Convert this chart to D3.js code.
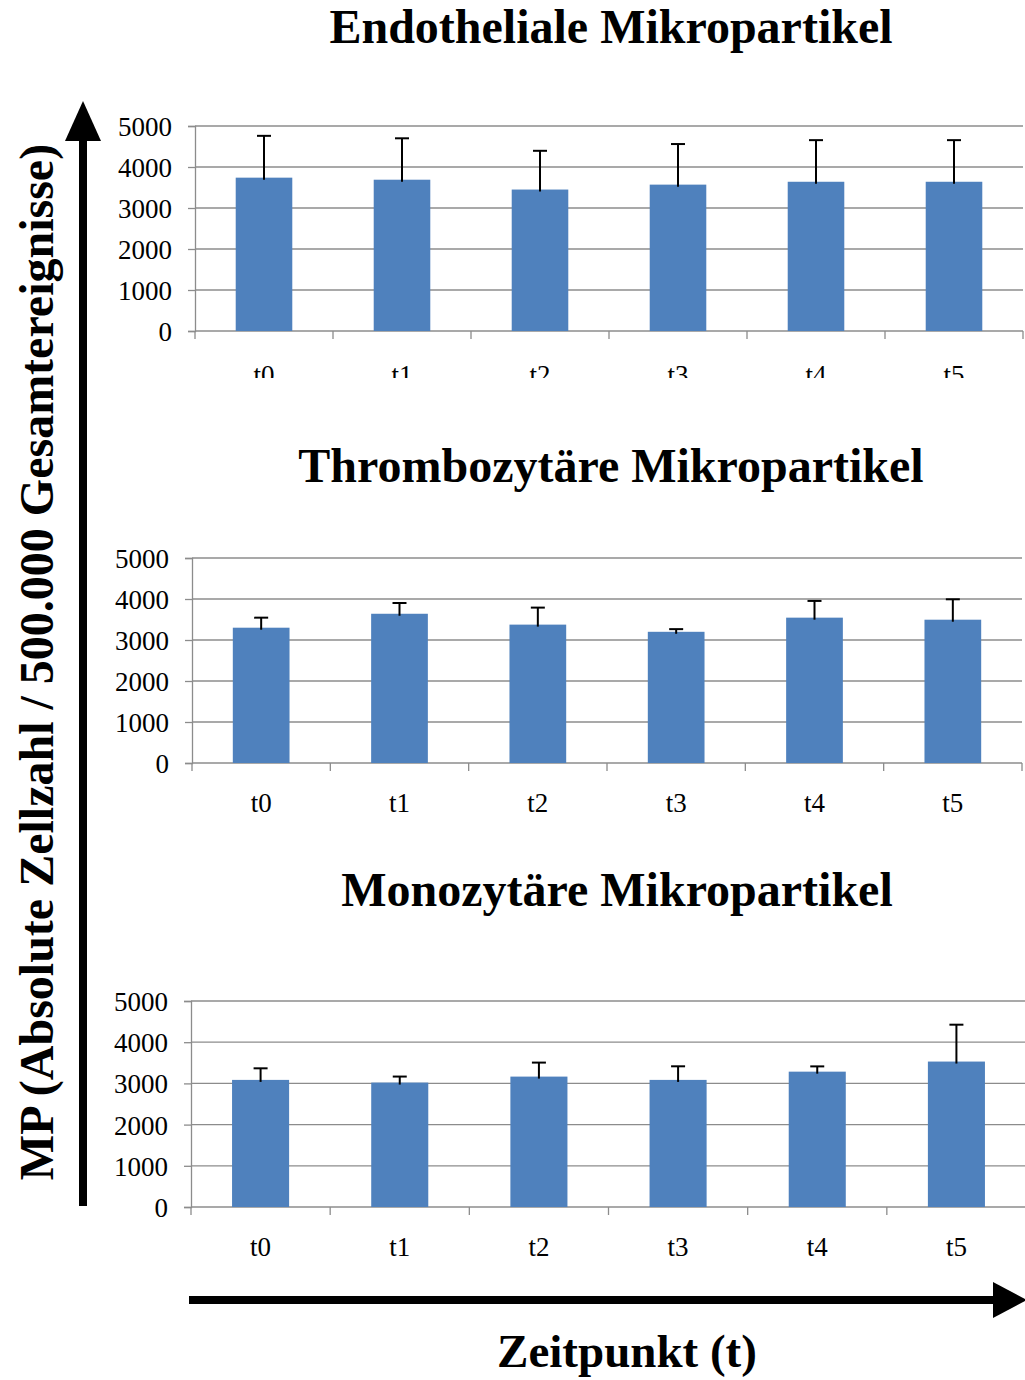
<!DOCTYPE html>
<html><head><meta charset="utf-8">
<script src="https://cdn.jsdelivr.net/npm/d3@7"></script>
<style>html,body{margin:0;padding:0;background:#fff;}svg{display:block;}</style>
</head><body>
<script>
const categories = ["t0","t1","t2","t3","t4","t5"];
const yTicks = [0,1000,2000,3000,4000,5000];
const titles = ["Endotheliale Mikropartikel","Thrombozytäre Mikropartikel","Monozytäre Mikropartikel"];
const endoMean = [3740,3690,3450,3570,3640,3640];
const endoSD   = [1020,1010,945,990,1015,1015];
const thromMean = [3300,3640,3375,3200,3545,3495];
const thromSD   = [245,262,415,65,408,498];
const monoMean = [3085,3020,3165,3085,3285,3530];
const monoSD   = [281,146,340,330,128,895];
const yLabel = "MP (Absolute Zellzahl / 500.000 Gesamtereignisse)";
const xLabel = "Zeitpunkt (t)";

const panels = [
  {mean: endoMean, sd: endoSD, title: titles[0], tx: 611, ty: 43, x0: 195, x1: 1023, yTop: 126, yBot: 331, lblY: 384, clip: 378},
  {mean: thromMean, sd: thromSD, title: titles[1], tx: 611, ty: 482, x0: 192, x1: 1022, yTop: 558, yBot: 763, lblY: 812, clip: null},
  {mean: monoMean, sd: monoSD, title: titles[2], tx: 617, ty: 906, x0: 191, x1: 1026, yTop: 1001, yBot: 1207, lblY: 1256, clip: null}
];

const W = 1025, H = 1380;
const svg = d3.select("body").append("svg").attr("width", W).attr("height", H);
const serif = "\"Liberation Serif\", \"Times New Roman\", Times, serif";
const defs = svg.append("defs");

panels.forEach((p, i) => {
  const x = d3.scaleBand().domain(categories).range([p.x0, p.x1]).paddingInner(0.59).paddingOuter(0.295);
  const xb = d3.scaleBand().domain(categories).range([p.x0, p.x1]);
  const y = d3.scaleLinear().domain([0, 5000]).range([p.yBot, p.yTop]);
  const g = svg.append("g");

  svg.append("text").attr("x", p.tx).attr("y", p.ty).attr("text-anchor", "middle")
    .style("font-family", serif).attr("font-weight", "bold").attr("font-size", 48).text(p.title);

  // gridlines
  g.append("g").selectAll("line").data(yTicks.filter(d => d > 0)).join("line")
    .attr("x1", p.x0).attr("x2", p.x1).attr("y1", d => y(d)).attr("y2", d => y(d))
    .attr("stroke", "#8c8c8c").attr("stroke-width", 1.3);

  // y axis
  const ya = g.append("g").attr("transform", `translate(${p.x0},0)`)
    .call(d3.axisLeft(y).tickValues(yTicks).tickSize(7).tickPadding(16).tickFormat(d3.format("d")));
  ya.select(".domain").attr("stroke", "#8c8c8c").attr("stroke-width", 1.3);
  ya.selectAll(".tick line").attr("stroke", "#8c8c8c").attr("stroke-width", 1.3);
  ya.selectAll("text").style("font-family", serif).attr("font-size", 27).attr("fill", "#000").attr("dy", "0.35em");

  // x axis baseline & ticks at band boundaries
  g.append("line").attr("x1", p.x0).attr("x2", p.x1).attr("y1", p.yBot).attr("y2", p.yBot)
    .attr("stroke", "#8c8c8c").attr("stroke-width", 1.3);
  const bounds = categories.map(c => xb(c)).concat([p.x1]);
  g.append("g").selectAll("line").data(bounds).join("line")
    .attr("x1", d => d).attr("x2", d => d).attr("y1", p.yBot).attr("y2", p.yBot + 8)
    .attr("stroke", "#8c8c8c").attr("stroke-width", 1.3);

  // bars
  g.append("g").selectAll("rect").data(p.mean).join("rect")
    .attr("x", (d, j) => x(categories[j])).attr("width", x.bandwidth())
    .attr("y", d => y(d)).attr("height", d => p.yBot - y(d)).attr("fill", "#4f81bd");

  // error bars
  const eb = g.append("g").attr("stroke", "#000").attr("stroke-width", 2);
  p.mean.forEach((m, j) => {
    const cx = x(categories[j]) + x.bandwidth() / 2;
    eb.append("line").attr("x1", cx).attr("x2", cx).attr("y1", y(m) + 2).attr("y2", y(m + p.sd[j]));
    eb.append("line").attr("x1", cx - 7).attr("x2", cx + 7).attr("y1", y(m + p.sd[j])).attr("y2", y(m + p.sd[j]));
  });

  // category labels
  const lg = g.append("g");
  if (p.clip) {
    defs.append("clipPath").attr("id", "clip" + i).append("rect")
      .attr("x", 0).attr("y", 0).attr("width", W).attr("height", p.clip);
    lg.attr("clip-path", `url(#clip${i})`);
  }
  lg.selectAll("text").data(categories).join("text")
    .attr("x", d => xb(d) + xb.bandwidth() / 2).attr("y", p.lblY).attr("text-anchor", "middle")
    .style("font-family", serif).attr("font-size", 27).attr("fill", "#000").text(d => d);
});

// vertical arrow
svg.append("line").attr("x1", 83).attr("x2", 83).attr("y1", 1206).attr("y2", 138)
  .attr("stroke", "#000").attr("stroke-width", 8);
svg.append("path").attr("d", "M83,101 L101,141 L65,141 Z").attr("fill", "#000");

// horizontal arrow
svg.append("line").attr("x1", 189).attr("x2", 998).attr("y1", 1300).attr("y2", 1300)
  .attr("stroke", "#000").attr("stroke-width", 8);
svg.append("path").attr("d", "M1027,1300 L993,1282 L993,1318 Z").attr("fill", "#000");

// axis titles
svg.append("text").attr("transform", "translate(53,662) rotate(-90)").attr("text-anchor", "middle")
  .style("font-family", serif).attr("font-weight", "bold").attr("font-size", 48).text(yLabel);
svg.append("text").attr("x", 627).attr("y", 1367).attr("text-anchor", "middle")
  .style("font-family", serif).attr("font-weight", "bold").attr("font-size", 47).text(xLabel);
</script>
</body></html>
